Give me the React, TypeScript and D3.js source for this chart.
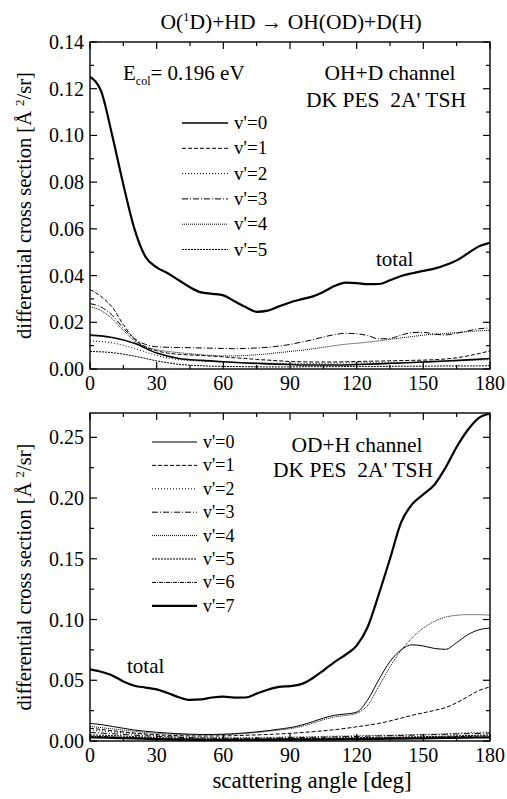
import React from "react";
import * as d3 from "d3";

// ---------- data ----------
const anglesFine = [0,5,10,15,20,25,30,35,40,45,50,55,60,65,70,75,80,85,90,95,100,105,110,115,120,125,130,135,140,145,150,155,160,165,170,175,180];
const anglesCoarse = [0,10,20,30,40,50,60,70,80,90,100,110,120,130,140,150,160,170,180];

const xTicks = [0,30,60,90,120,150,180];
const topYTicks = [0,0.02,0.04,0.06,0.08,0.1,0.12,0.14];
const botYTicks = [0,0.05,0.1,0.15,0.2,0.25];

// OH+D channel
const ohTotal = [0.125,0.119,0.1,0.079,0.06,0.048,0.0435,0.041,0.038,0.035,0.0328,0.0322,0.0315,0.029,0.0265,0.0245,0.025,0.0268,0.0285,0.0298,0.031,0.033,0.0355,0.037,0.0368,0.0363,0.0364,0.038,0.0398,0.041,0.042,0.043,0.0445,0.0465,0.0495,0.0525,0.054];
const ohV0 = [0.0145,0.0135,0.011,0.0068,0.0045,0.0037,0.0031,0.0026,0.0022,0.0019,0.0017,0.0017,0.0019,0.0022,0.0026,0.003,0.0034,0.0039,0.0045];
const ohV1 = [0.034,0.031,0.0265,0.019,0.0128,0.0095,0.0078,0.0068,0.0063,0.006,0.0058,0.0055,0.0052,0.0048,0.0045,0.0041,0.0038,0.0035,0.0032,0.0031,0.003,0.003,0.003,0.0031,0.0032,0.0033,0.0034,0.0035,0.0036,0.0037,0.0038,0.004,0.0043,0.0048,0.0056,0.0066,0.0078];
const ohV2 = [0.012,0.0112,0.0088,0.0058,0.004,0.0034,0.003,0.0027,0.0025,0.0024,0.0024,0.0025,0.0026,0.0027,0.0028,0.003,0.0033,0.0036,0.004];
const ohV3 = [0.028,0.0265,0.023,0.0175,0.013,0.0105,0.0095,0.0093,0.0092,0.0091,0.009,0.0089,0.0088,0.0087,0.0088,0.009,0.0093,0.0098,0.0105,0.0115,0.0125,0.0137,0.0147,0.0153,0.0151,0.0143,0.0129,0.0131,0.0145,0.0156,0.0157,0.0149,0.0146,0.0153,0.0163,0.0172,0.0176];
const ohV4 = [0.0267,0.025,0.0215,0.0165,0.012,0.0095,0.0083,0.0075,0.007,0.0065,0.0061,0.0058,0.0056,0.0056,0.0058,0.0061,0.0065,0.007,0.0075,0.008,0.0086,0.0093,0.01,0.0106,0.011,0.0115,0.012,0.0127,0.0133,0.0139,0.0145,0.0149,0.0152,0.0156,0.016,0.0163,0.0166];
const ohV5 = [0.0075,0.007,0.0055,0.0035,0.002,0.0014,0.0011,0.001,0.0009,0.0009,0.001,0.001,0.0011,0.0011,0.0012,0.0012,0.0013,0.0013,0.0014];

// OD+H channel
const odTotal = [0.059,0.057,0.054,0.049,0.0455,0.044,0.0425,0.0395,0.036,0.0338,0.0342,0.0358,0.0365,0.0357,0.0358,0.039,0.0422,0.0445,0.0452,0.0468,0.0515,0.058,0.065,0.071,0.0785,0.094,0.121,0.15,0.18,0.195,0.203,0.211,0.225,0.242,0.256,0.266,0.2695];
const odV0 = [0.0145,0.0135,0.012,0.0105,0.009,0.008,0.0072,0.0065,0.006,0.0056,0.0054,0.0054,0.0056,0.006,0.0067,0.0075,0.0085,0.0097,0.011,0.013,0.0158,0.0188,0.0212,0.0222,0.0238,0.034,0.0505,0.0655,0.075,0.0792,0.0782,0.0762,0.0755,0.081,0.0875,0.0915,0.093];
const odV1 = [0.0105,0.0095,0.0085,0.0075,0.0066,0.0058,0.0052,0.0047,0.0044,0.0042,0.0041,0.0041,0.0042,0.0044,0.0047,0.005,0.0054,0.0058,0.0063,0.0069,0.0076,0.0084,0.0093,0.0104,0.0117,0.013,0.0145,0.0165,0.0188,0.0212,0.0232,0.0252,0.0275,0.0315,0.0365,0.0415,0.0445];
const odV2 = [0.009,0.0075,0.006,0.0045,0.0035,0.003,0.0028,0.0028,0.003,0.0033,0.0036,0.004,0.0043,0.0046,0.005,0.0055,0.006,0.0068,0.0075];
const odV3 = [0.007,0.006,0.0048,0.0038,0.003,0.0025,0.0022,0.0022,0.0024,0.0027,0.003,0.0034,0.0038,0.0042,0.0046,0.005,0.0055,0.006,0.0065];
const odV4 = [0.012,0.011,0.01,0.009,0.008,0.007,0.0063,0.0058,0.0054,0.0051,0.005,0.005,0.0052,0.0056,0.0062,0.007,0.008,0.009,0.0101,0.012,0.0145,0.0175,0.0198,0.021,0.0228,0.0295,0.045,0.061,0.0745,0.085,0.093,0.0985,0.102,0.1035,0.104,0.104,0.1035];
const odV5 = [0.005,0.0045,0.0036,0.0028,0.0022,0.0018,0.0016,0.0016,0.0018,0.002,0.0022,0.0025,0.0028,0.003,0.0033,0.0036,0.004,0.0045,0.005];
const odV6 = [0.004,0.0034,0.0027,0.002,0.0016,0.0013,0.0012,0.0012,0.0013,0.0015,0.0017,0.0019,0.0021,0.0024,0.0027,0.003,0.0034,0.0038,0.0042];
const odV7 = [0.003,0.0026,0.0021,0.0016,0.0012,0.001,0.0009,0.0009,0.001,0.0011,0.0012,0.0014,0.0016,0.0018,0.002,0.0022,0.0025,0.0028,0.003];

const legendLabels = ["v'=0","v'=1","v'=2","v'=3","v'=4","v'=5","v'=6","v'=7"];

// ---------- styles ----------
const FONT = "'Liberation Serif', 'Times New Roman', serif";
const dashes: (string | undefined)[] = [undefined, "4,2", "1,2", "6,2,1,2", "1,1", "2,1", "4,1,1,1", undefined];
const widthsTop = [1.6, 1, 1, 1, 1, 1];
const widthsBot = [1, 1, 1, 1, 1, 1, 1, 2.2];

type Series = { angles: number[]; values: number[]; idx: number; total?: boolean };

const X0 = 90, X1 = 490;

function Panel(props: {
  yTop: number; yBot: number; yMax: number; yTicks: number[];
  series: Series[]; widths: number[];
  legendX: number; legendY: number; legendStep: number; legendLen: number; nLegend: number;
  legendFont: number;
}) {
  const { yTop, yBot, yMax, yTicks, series, widths } = props;
  const x = d3.scaleLinear().domain([0, 180]).range([X0, X1]);
  const y = d3.scaleLinear().domain([0, yMax]).range([yBot, yTop]);
  const fmt = d3.format(".2f");
  const xMinor = xTicks.slice(1).map((t, i) => (t + xTicks[i]) / 2);
  const yMinor = yTicks.slice(1).map((t, i) => (t + yTicks[i]) / 2);
  const major = 7, minor = 4;
  return (
    <g>
      <defs>
        <clipPath id={"clip" + yTop}>
          <rect x={X0} y={yTop} width={X1 - X0} height={yBot - yTop} />
        </clipPath>
      </defs>
      <g clipPath={`url(#clip${yTop})`}>
        {series.map((s, k) => {
          const line = d3.line<number>()
            .x((_, i) => x(s.angles[i]))
            .y((v) => y(v))
            .curve(d3.curveMonotoneX);
          return (
            <path key={k} d={line(s.values) || ""} fill="none" stroke="#000"
              strokeWidth={s.total ? 2.2 : widths[s.idx]}
              strokeDasharray={s.total ? undefined : dashes[s.idx]} />
          );
        })}
      </g>
      <rect x={X0} y={yTop} width={X1 - X0} height={yBot - yTop} fill="none" stroke="#000" strokeWidth={1.4} />
      {xTicks.map((t) => (
        <g key={"xt" + t}>
          <line x1={x(t)} x2={x(t)} y1={yBot} y2={yBot - major} stroke="#000" strokeWidth={1.2} />
          <line x1={x(t)} x2={x(t)} y1={yTop} y2={yTop + major} stroke="#000" strokeWidth={1.2} />
          <text x={x(t)} y={yBot + 21} textAnchor="middle" fontSize={20} fontFamily={FONT}>{t}</text>
        </g>
      ))}
      {xMinor.map((t) => (
        <g key={"xm" + t}>
          <line x1={x(t)} x2={x(t)} y1={yBot} y2={yBot - minor} stroke="#000" strokeWidth={1.2} />
          <line x1={x(t)} x2={x(t)} y1={yTop} y2={yTop + minor} stroke="#000" strokeWidth={1.2} />
        </g>
      ))}
      {yTicks.map((t) => (
        <g key={"yt" + t}>
          <line x1={X0} x2={X0 + major} y1={y(t)} y2={y(t)} stroke="#000" strokeWidth={1.2} />
          <line x1={X1} x2={X1 - major} y1={y(t)} y2={y(t)} stroke="#000" strokeWidth={1.2} />
          <text x={X0 - 6} y={y(t) + 7} textAnchor="end" fontSize={20} fontFamily={FONT}>{fmt(t)}</text>
        </g>
      ))}
      {yMinor.map((t) => (
        <g key={"ym" + t}>
          <line x1={X0} x2={X0 + minor} y1={y(t)} y2={y(t)} stroke="#000" strokeWidth={1.2} />
          <line x1={X1} x2={X1 - minor} y1={y(t)} y2={y(t)} stroke="#000" strokeWidth={1.2} />
        </g>
      ))}
      {legendLabels.slice(0, props.nLegend).map((lab, i) => {
        const ly = props.legendY + i * props.legendStep;
        return (
          <g key={lab}>
            <line x1={props.legendX} x2={props.legendX + props.legendLen} y1={ly} y2={ly}
              stroke="#000" strokeWidth={widths[i]} strokeDasharray={dashes[i]} />
            <text x={props.legendX + props.legendLen + 6} y={ly + 6} fontSize={props.legendFont} fontFamily={FONT}>{lab}</text>
          </g>
        );
      })}
      <text transform={`translate(31,${(yTop + yBot) / 2}) rotate(-90)`} textAnchor="middle" fontSize={20.5} fontFamily={FONT}>
        differential cross section [Å <tspan dy={-7} fontSize={13}>2</tspan><tspan dy={7}>/sr]</tspan>
      </text>
    </g>
  );
}

export default function App() {
  const topSeries: Series[] = [
    { angles: anglesFine, values: ohTotal, idx: 0, total: true },
    { angles: anglesCoarse, values: ohV0, idx: 0 },
    { angles: anglesFine, values: ohV1, idx: 1 },
    { angles: anglesCoarse, values: ohV2, idx: 2 },
    { angles: anglesFine, values: ohV3, idx: 3 },
    { angles: anglesFine, values: ohV4, idx: 4 },
    { angles: anglesCoarse, values: ohV5, idx: 5 },
  ];
  const botSeries: Series[] = [
    { angles: anglesFine, values: odTotal, idx: 7, total: true },
    { angles: anglesFine, values: odV0, idx: 0 },
    { angles: anglesFine, values: odV1, idx: 1 },
    { angles: anglesCoarse, values: odV2, idx: 2 },
    { angles: anglesCoarse, values: odV3, idx: 3 },
    { angles: anglesFine, values: odV4, idx: 4 },
    { angles: anglesCoarse, values: odV5, idx: 5 },
    { angles: anglesCoarse, values: odV6, idx: 6 },
    { angles: anglesCoarse, values: odV7, idx: 7 },
  ];
  return (
    <svg width={507} height={799} style={{ position: "absolute", left: 0, top: 0, background: "#fff" }}>
      <rect width={507} height={799} fill="#fff" />
      <text x={291} y={29} textAnchor="middle" fontSize={21.5} fontFamily={FONT}>
        O(<tspan dy={-8} fontSize={13}>1</tspan><tspan dy={8}>D)+HD → OH(OD)+D(H)</tspan>
      </text>
      <Panel yTop={42} yBot={369} yMax={0.14} yTicks={topYTicks} series={topSeries} widths={widthsTop}
        legendX={182} legendY={123} legendStep={25.3} legendLen={46} nLegend={6} legendFont={19} />
      <Panel yTop={413} yBot={741} yMax={0.27} yTicks={botYTicks} series={botSeries} widths={widthsBot}
        legendX={152} legendY={442} legendStep={23.4} legendLen={45} nLegend={8} legendFont={18} />
      <text x={123} y={80} fontSize={21} fontFamily={FONT}>
        E<tspan dy={5} fontSize={12}>col</tspan><tspan dy={-5}>= 0.196 eV</tspan>
      </text>
      <text x={390} y={80} textAnchor="middle" fontSize={21.5} fontFamily={FONT}>OH+D channel</text>
      <text x={386} y={107} textAnchor="middle" fontSize={21.5} fontFamily={FONT} style={{ whiteSpace: "pre" }}>DK PES  2A' TSH</text>
      <text x={376} y={266} fontSize={21} fontFamily={FONT}>total</text>
      <text x={357} y={452} textAnchor="middle" fontSize={21.5} fontFamily={FONT}>OD+H channel</text>
      <text x={353} y={477} textAnchor="middle" fontSize={21.5} fontFamily={FONT} style={{ whiteSpace: "pre" }}>DK PES  2A' TSH</text>
      <text x={127} y={673} fontSize={21} fontFamily={FONT}>total</text>
      <text x={312} y={788} textAnchor="middle" fontSize={23} fontFamily={FONT}>scattering angle [deg]</text>
    </svg>
  );
}
